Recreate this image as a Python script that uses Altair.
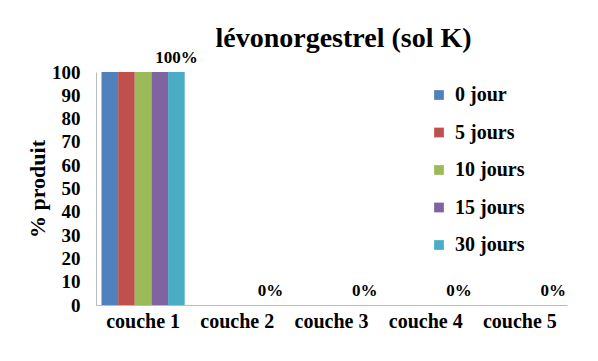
import altair as alt
import pandas as pd

categories = ["couche 1", "couche 2", "couche 3", "couche 4", "couche 5"]
series = ["0 jour", "5 jours", "10 jours", "15 jours", "30 jours"]
values = {
    "0 jour":   [100, 0, 0, 0, 0],
    "5 jours":  [100, 0, 0, 0, 0],
    "10 jours": [100, 0, 0, 0, 0],
    "15 jours": [100, 0, 0, 0, 0],
    "30 jours": [100, 0, 0, 0, 0],
}
labels = ["100%", "0%", "0%", "0%", "0%"]
colors = ["#4F81BD", "#C0504D", "#9BBB59", "#8064A2", "#4BACC6"]
y_ticks = [0, 10, 20, 30, 40, 50, 60, 70, 80, 90, 100]

rows = []
for s in series:
    for i, c in enumerate(categories):
        rows.append({"couche": c, "serie": s, "valeur": values[s][i],
                     "label": labels[i]})
df = pd.DataFrame(rows)

FONT = "Liberation Serif"

x_axis = alt.Axis(title=None, labelAngle=0, ticks=False, domainColor="#BBBBBB",
                  labelFont=FONT, labelFontSize=20, labelFontWeight="bold",
                  labelPadding=6, labelColor="#000000", labelOverlap=False)
y_axis = alt.Axis(title="% produit", values=y_ticks, grid=False,
                  ticks=False, domainColor="#BBBBBB", labelFont=FONT,
                  labelFontSize=19, labelFontWeight="bold", labelColor="#000000",
                  labelPadding=16, labelOverlap=False, titleFont=FONT,
                  titleFontSize=22, titleFontWeight="bold",
                  titleColor="#000000", titlePadding=2)

x = alt.X("couche:N", sort=categories,
          scale=alt.Scale(paddingInner=0, paddingOuter=0), axis=x_axis)
y = alt.Y("valeur:Q", scale=alt.Scale(domain=[0, 100]), axis=y_axis)
xo = alt.XOffset("serie:N", sort=series, scale=alt.Scale(paddingOuter=0.33, paddingInner=0))

bars = alt.Chart(df).mark_bar().encode(
    x=x,
    xOffset=xo,
    y=y,
    color=alt.Color("serie:N", sort=series,
                    scale=alt.Scale(domain=series, range=colors),
                    legend=alt.Legend(title=None, orient="none", legendX=333, legendY=13,
                                      symbolType="square", symbolSize=95,
                                      symbolStrokeWidth=0, labelFont=FONT,
                                      labelFontSize=20, labelFontWeight="bold",
                                      labelColor="#000000", rowPadding=17.5,
                                      labelOffset=6)),
)

text = alt.Chart(df).transform_filter(alt.datum.serie == "30 jours").mark_text(
    font=FONT, fontSize=17, fontWeight="bold", baseline="bottom", dy=-5, color="#000000"
).encode(
    x=x,
    xOffset=xo,
    y=y,
    text="label:N",
)

chart = alt.layer(bars, text).properties(
    width=471, height=233,
    title=alt.Title("lévonorgestrel (sol K)", font=FONT, fontSize=28, fontWeight="bold",
                    color="#000000", dx=12, offset=-4),
    autosize=alt.AutoSizeParams(type="none"),
    padding={"left": 88, "top": 64, "right": 20, "bottom": 40},
).configure_view(stroke=None).configure_bar(binSpacing=0, strokeWidth=0)

chart.save("out.html", embed_options={"renderer": "svg", "actions": False})
